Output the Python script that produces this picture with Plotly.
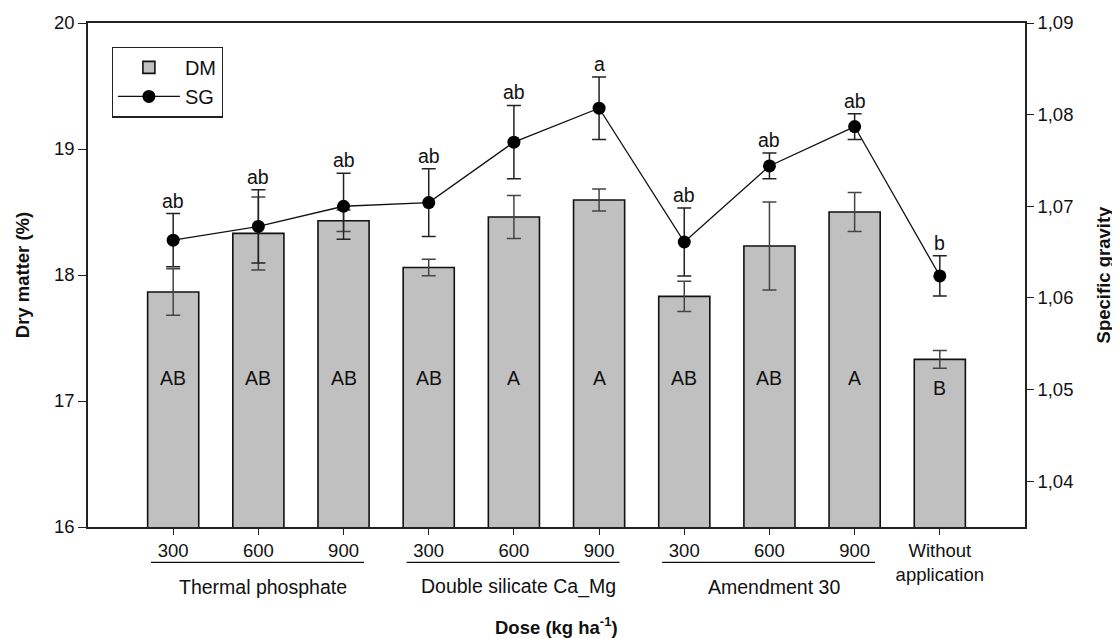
import plotly.graph_objects as go

# ---- data ----
dose_labels = ["300", "600", "900", "300", "600", "900", "300", "600", "900", "Without<br>application"]
dm_values = [17.865, 18.33, 18.43, 18.06, 18.46, 18.595, 17.83, 18.23, 18.50, 17.33]
dm_errors = [0.185, 0.29, 0.085, 0.065, 0.17, 0.087, 0.12, 0.35, 0.155, 0.07]
dm_letters = ["AB", "AB", "AB", "AB", "A", "A", "AB", "AB", "A", "B"]
sg_values = [1.0663, 1.0678, 1.0700, 1.0704, 1.0770, 1.0807, 1.0661, 1.0744, 1.0787, 1.0624]
sg_errors = [0.0029, 0.0040, 0.0036, 0.0037, 0.0040, 0.0034, 0.0037, 0.0014, 0.0014, 0.0022]
sg_letters = ["ab", "ab", "ab", "ab", "ab", "a", "ab", "ab", "ab", "b"]
group_names = ["Thermal phosphate", "Double silicate Ca_Mg", "Amendment 30"]
group_start = [0, 3, 6]
group_end = [2, 5, 8]

FONT = "Liberation Sans, Arial, sans-serif"
FS = 18.5
FS_BIG = 19.5
x = list(range(len(dm_values)))

fig = go.Figure()
fig.add_trace(go.Bar(
    x=x, y=dm_values, base=0, width=0.6, name="DM",
    marker=dict(color="#c0c0c0", line=dict(color="#111111", width=1.6)),
    error_y=dict(type="data", array=dm_errors, color="#444444", thickness=1.5, width=7),
))
fig.add_trace(go.Scatter(
    x=x, y=sg_values, yaxis="y2", name="SG", mode="lines+markers",
    line=dict(color="#111111", width=1.3),
    marker=dict(color="#000000", size=13),
    error_y=dict(type="data", array=sg_errors, color="#222222", thickness=1.5, width=7),
))

annotations = []
for i, (v, t) in enumerate(zip(dm_values, dm_letters)):
    ly = 17.18 if v > 17.5 else 17.10
    annotations.append(dict(x=i, y=ly, xref="x", yref="y", text=t, showarrow=False,
                            font=dict(family=FONT, size=FS_BIG, color="#111111")))
for i, (v, e, t) in enumerate(zip(sg_values, sg_errors, sg_letters)):
    annotations.append(dict(x=i, y=v + e, xref="x", yref="y2", text=t, showarrow=False,
                            yanchor="bottom", yshift=0,
                            font=dict(family=FONT, size=FS_BIG, color="#111111")))
shapes = []
for name, s, e in zip(group_names, group_start, group_end):
    shapes.append(dict(type="line", xref="x", yref="paper", x0=s - 0.26, x1=e + 0.24,
                       y0=-0.07, y1=-0.07, line=dict(color="#111111", width=1.2)))
    annotations.append(dict(x=(s + e) / 2 + 0.05, y=-0.119, xref="x", yref="paper", text=name,
                            showarrow=False, yanchor="middle",
                            font=dict(family=FONT, size=FS_BIG, color="#111111")))
annotations.append(dict(x=0.5, y=-0.196, xref="paper", yref="paper",
                        text="<b>Dose (kg ha<sup>-1</sup>)</b>", showarrow=False, yanchor="middle",
                        font=dict(family=FONT, size=FS, color="#111111")))

fig.update_layout(
    template="none",
    width=1112, height=631,
    margin=dict(l=80, r=95, t=15, b=112),
    paper_bgcolor="white", plot_bgcolor="white",
    separators=",.",
    font=dict(family=FONT, size=FS, color="#111111"),
    showlegend=True,
    legend=dict(x=0.0253, y=0.953, xanchor="left", yanchor="top",
                bordercolor="#222222", borderwidth=1.2, bgcolor="white",
                font=dict(family=FONT, size=20), itemwidth=62, traceorder="normal"),
    xaxis=dict(range=[-1, 10], tickvals=x, ticktext=dose_labels, showgrid=False, zeroline=False,
               showline=True, linecolor="#222222", linewidth=1.5, mirror=True, automargin=False,
               ticks="outside", ticklen=6, tickcolor="#222222",
               tickfont=dict(family=FONT, size=FS)),
    yaxis=dict(range=[16, 20], tickvals=[16, 17, 18, 19, 20], showgrid=False, zeroline=False,
               showline=True, linecolor="#222222", linewidth=1.5, automargin=False,
               ticks="outside", ticklen=8, tickcolor="#222222",
               title=dict(text="<b>Dry matter (%)</b>", standoff=19, font=dict(family=FONT, size=FS)),
               tickfont=dict(family=FONT, size=FS)),
    yaxis2=dict(range=[1.035, 1.09], tickvals=[1.04, 1.05, 1.06, 1.07, 1.08, 1.09], tickformat=".2f",
                overlaying="y", side="right", showgrid=False, zeroline=False,
                showline=True, linecolor="#222222", linewidth=1.5, automargin=False,
                ticks="outside", ticklen=7, tickcolor="#222222",
                title=dict(text="<b>Specific gravity</b>", standoff=25, font=dict(family=FONT, size=FS)),
                tickfont=dict(family=FONT, size=FS)),
    annotations=annotations,
    shapes=shapes,
    bargap=0.4,
)

fig.write_html("out.html")
